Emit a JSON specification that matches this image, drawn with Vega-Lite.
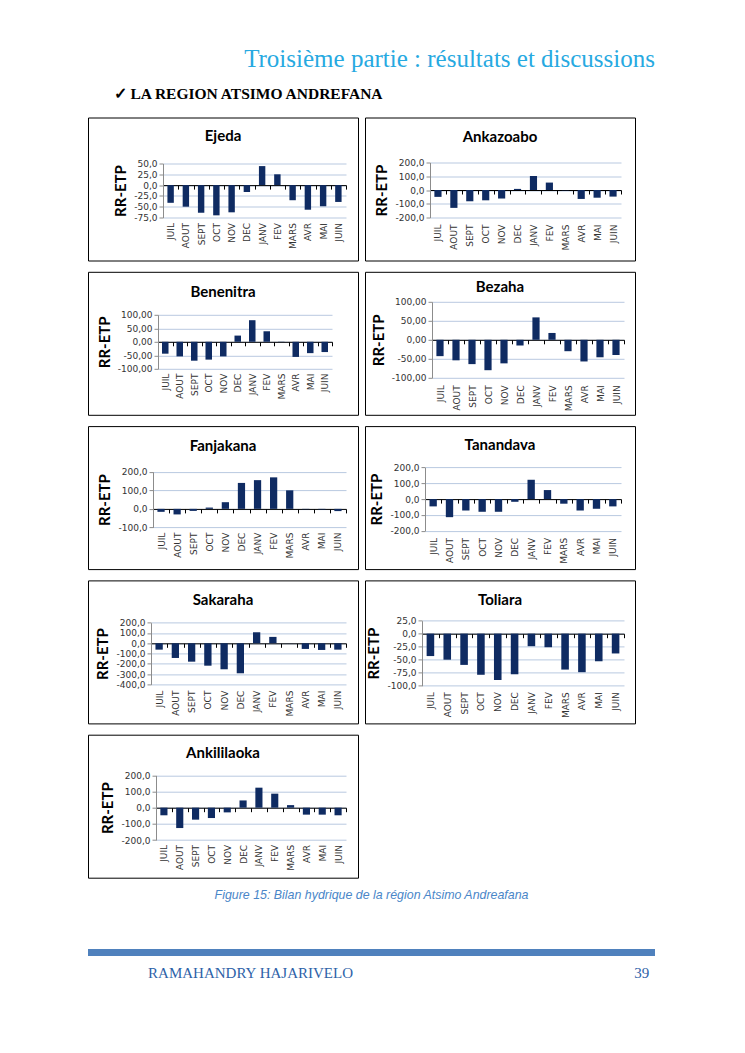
{
  "$schema": "https://vega.github.io/schema/vega-lite/v6.json",
  "background": "white",
  "padding": {"left": 83, "top": 46.5, "right": 0, "bottom": 0},
  "title": {"text": "Troisième partie : résultats et discussions", "anchor": "end", "font": "Liberation Serif", "fontSize": 25, "fontWeight": "normal", "color": "#27A9E1", "offset": 15.3},
  "datasets": {
    "rr": [
      {"s":"Ejeda","m":"JUIL","v":-41},{"s":"Ejeda","m":"AOUT","v":-50},{"s":"Ejeda","m":"SEPT","v":-64},{"s":"Ejeda","m":"OCT","v":-70},{"s":"Ejeda","m":"NOV","v":-63},{"s":"Ejeda","m":"DEC","v":-16},{"s":"Ejeda","m":"JANV","v":44},{"s":"Ejeda","m":"FEV","v":25},{"s":"Ejeda","m":"MARS","v":-35},{"s":"Ejeda","m":"AVR","v":-57},{"s":"Ejeda","m":"MAI","v":-49},{"s":"Ejeda","m":"JUIN","v":-39},
      {"s":"Ankazoabo","m":"JUIL","v":-50},{"s":"Ankazoabo","m":"AOUT","v":-130},{"s":"Ankazoabo","m":"SEPT","v":-82},{"s":"Ankazoabo","m":"OCT","v":-75},{"s":"Ankazoabo","m":"NOV","v":-62},{"s":"Ankazoabo","m":"DEC","v":8},{"s":"Ankazoabo","m":"JANV","v":102},{"s":"Ankazoabo","m":"FEV","v":54},{"s":"Ankazoabo","m":"MARS","v":-2},{"s":"Ankazoabo","m":"AVR","v":-65},{"s":"Ankazoabo","m":"MAI","v":-56},{"s":"Ankazoabo","m":"JUIN","v":-48},
      {"s":"Benenitra","m":"JUIL","v":-44},{"s":"Benenitra","m":"AOUT","v":-54},{"s":"Benenitra","m":"SEPT","v":-70},{"s":"Benenitra","m":"OCT","v":-66},{"s":"Benenitra","m":"NOV","v":-54},{"s":"Benenitra","m":"DEC","v":23},{"s":"Benenitra","m":"JANV","v":80},{"s":"Benenitra","m":"FEV","v":39},{"s":"Benenitra","m":"MARS","v":-1},{"s":"Benenitra","m":"AVR","v":-56},{"s":"Benenitra","m":"MAI","v":-42},{"s":"Benenitra","m":"JUIN","v":-38},
      {"s":"Bezaha","m":"JUIL","v":-43},{"s":"Bezaha","m":"AOUT","v":-54},{"s":"Bezaha","m":"SEPT","v":-64},{"s":"Bezaha","m":"OCT","v":-80},{"s":"Bezaha","m":"NOV","v":-62},{"s":"Bezaha","m":"DEC","v":-15},{"s":"Bezaha","m":"JANV","v":59},{"s":"Bezaha","m":"FEV","v":18},{"s":"Bezaha","m":"MARS","v":-30},{"s":"Bezaha","m":"AVR","v":-57},{"s":"Bezaha","m":"MAI","v":-46},{"s":"Bezaha","m":"JUIN","v":-40},
      {"s":"Fanjakana","m":"JUIL","v":-16},{"s":"Fanjakana","m":"AOUT","v":-30},{"s":"Fanjakana","m":"SEPT","v":-11},{"s":"Fanjakana","m":"OCT","v":7},{"s":"Fanjakana","m":"NOV","v":36},{"s":"Fanjakana","m":"DEC","v":140},{"s":"Fanjakana","m":"JANV","v":155},{"s":"Fanjakana","m":"FEV","v":170},{"s":"Fanjakana","m":"MARS","v":100},{"s":"Fanjakana","m":"AVR","v":-2},{"s":"Fanjakana","m":"MAI","v":-3},{"s":"Fanjakana","m":"JUIN","v":-12},
      {"s":"Tanandava","m":"JUIL","v":-46},{"s":"Tanandava","m":"AOUT","v":-114},{"s":"Tanandava","m":"SEPT","v":-72},{"s":"Tanandava","m":"OCT","v":-80},{"s":"Tanandava","m":"NOV","v":-80},{"s":"Tanandava","m":"DEC","v":-17},{"s":"Tanandava","m":"JANV","v":122},{"s":"Tanandava","m":"FEV","v":57},{"s":"Tanandava","m":"MARS","v":-29},{"s":"Tanandava","m":"AVR","v":-72},{"s":"Tanandava","m":"MAI","v":-61},{"s":"Tanandava","m":"JUIN","v":-46},
      {"s":"Sakaraha","m":"JUIL","v":-62},{"s":"Sakaraha","m":"AOUT","v":-143},{"s":"Sakaraha","m":"SEPT","v":-179},{"s":"Sakaraha","m":"OCT","v":-218},{"s":"Sakaraha","m":"NOV","v":-253},{"s":"Sakaraha","m":"DEC","v":-292},{"s":"Sakaraha","m":"JANV","v":107},{"s":"Sakaraha","m":"FEV","v":62},{"s":"Sakaraha","m":"MARS","v":-1},{"s":"Sakaraha","m":"AVR","v":-55},{"s":"Sakaraha","m":"MAI","v":-65},{"s":"Sakaraha","m":"JUIN","v":-62},
      {"s":"Toliara","m":"JUIL","v":-43},{"s":"Toliara","m":"AOUT","v":-50},{"s":"Toliara","m":"SEPT","v":-60},{"s":"Toliara","m":"OCT","v":-79},{"s":"Toliara","m":"NOV","v":-89},{"s":"Toliara","m":"DEC","v":-78},{"s":"Toliara","m":"JANV","v":-24},{"s":"Toliara","m":"FEV","v":-26},{"s":"Toliara","m":"MARS","v":-69},{"s":"Toliara","m":"AVR","v":-74},{"s":"Toliara","m":"MAI","v":-53},{"s":"Toliara","m":"JUIN","v":-38},
      {"s":"Ankililaoka","m":"JUIL","v":-47},{"s":"Ankililaoka","m":"AOUT","v":-126},{"s":"Ankililaoka","m":"SEPT","v":-74},{"s":"Ankililaoka","m":"OCT","v":-64},{"s":"Ankililaoka","m":"NOV","v":-29},{"s":"Ankililaoka","m":"DEC","v":45},{"s":"Ankililaoka","m":"JANV","v":124},{"s":"Ankililaoka","m":"FEV","v":87},{"s":"Ankililaoka","m":"MARS","v":16},{"s":"Ankililaoka","m":"AVR","v":-43},{"s":"Ankililaoka","m":"MAI","v":-43},{"s":"Ankililaoka","m":"JUIN","v":-47}
    ]
  },
  "data": {"name": "rr"},
  "spacing": 9.3,
  "vconcat": [
    {
      "title": {"text": "✓   LA REGION ATSIMO ANDREFANA", "anchor": "start", "dx": 30, "font": "Liberation Serif", "fontSize": 15.5, "fontWeight": "bold", "color": "#000", "offset": 14.4},
      "spacing": 1,
      "hconcat": [
        {
          "width": 270, "height": 143,
          "title": {"text": "Ejeda", "offset": -26},
          "transform": [{"filter": "datum.s === 'Ejeda'"}],
          "mark": {"type": "bar", "color": "#0F2B62", "width": {"band": 0.42}},
          "encoding": {
            "x": {"field": "m", "type": "nominal", "title": null, "sort": ["JUIL","AOUT","SEPT","OCT","NOV","DEC","JANV","FEV","MARS","AVR","MAI","JUIN"], "scale": {"type": "band", "range": [75, 258], "paddingInner": 0, "paddingOuter": 0}, "axis": {"offset": -75.4, "labelPadding": 33.4}},
            "y": {"field": "v", "type": "quantitative", "title": "RR-ETP", "scale": {"domain": [-75, 50], "range": [100, 46], "nice": false}, "axis": {"offset": -75, "values": [-75, -50, -25, 0, 25, 50], "format": ".1f"}},
            "y2": {"datum": 0}
          }
        },
        {
          "width": 270, "height": 143,
          "title": {"text": "Ankazoabo", "offset": -27},
          "transform": [{"filter": "datum.s === 'Ankazoabo'"}],
          "mark": {"type": "bar", "color": "#0F2B62", "width": {"band": 0.45}},
          "encoding": {
            "x": {"field": "m", "type": "nominal", "title": null, "sort": ["JUIL","AOUT","SEPT","OCT","NOV","DEC","JANV","FEV","MARS","AVR","MAI","JUIN"], "scale": {"type": "band", "range": [65, 256], "paddingInner": 0, "paddingOuter": 0}, "axis": {"offset": -70.5, "labelPadding": 30}},
            "y": {"field": "v", "type": "quantitative", "title": "RR-ETP", "scale": {"domain": [-200, 200], "range": [100, 45], "nice": false}, "axis": {"offset": -65, "values": [-200, -100, 0, 100, 200], "format": ".1f"}},
            "y2": {"datum": 0}
          }
        }
      ]
    },
    {
      "spacing": 1,
      "hconcat": [
        {
          "width": 270, "height": 143,
          "title": {"text": "Benenitra", "offset": -28},
          "transform": [{"filter": "datum.s === 'Benenitra'"}],
          "mark": {"type": "bar", "color": "#0F2B62", "width": {"band": 0.45}},
          "encoding": {
            "x": {"field": "m", "type": "nominal", "title": null, "sort": ["JUIL","AOUT","SEPT","OCT","NOV","DEC","JANV","FEV","MARS","AVR","MAI","JUIN"], "scale": {"type": "band", "range": [70, 244], "paddingInner": 0, "paddingOuter": 0}, "axis": {"offset": -73, "labelPadding": 27.3}},
            "y": {"field": "v", "type": "quantitative", "title": "RR-ETP", "scale": {"domain": [-100, 100], "range": [97, 43], "nice": false}, "axis": {"offset": -70, "values": [-100, -50, 0, 50, 100], "format": ".2f"}},
            "y2": {"datum": 0}
          }
        },
        {
          "width": 270, "height": 143,
          "title": {"text": "Bezaha", "offset": -23},
          "transform": [{"filter": "datum.s === 'Bezaha'"}],
          "mark": {"type": "bar", "color": "#0F2B62", "width": {"band": 0.45}},
          "encoding": {
            "x": {"field": "m", "type": "nominal", "title": null, "sort": ["JUIL","AOUT","SEPT","OCT","NOV","DEC","JANV","FEV","MARS","AVR","MAI","JUIN"], "scale": {"type": "band", "range": [67, 259], "paddingInner": 0, "paddingOuter": 0}, "axis": {"offset": -75, "labelPadding": 41}},
            "y": {"field": "v", "type": "quantitative", "title": "RR-ETP", "scale": {"domain": [-100, 100], "range": [106, 30], "nice": false}, "axis": {"offset": -67, "values": [-100, -50, 0, 50, 100], "format": ".2f"}},
            "y2": {"datum": 0}
          }
        }
      ]
    },
    {
      "spacing": 1,
      "hconcat": [
        {
          "width": 270, "height": 143,
          "title": {"text": "Fanjakana", "offset": -27.7},
          "transform": [{"filter": "datum.s === 'Fanjakana'"}],
          "mark": {"type": "bar", "color": "#0F2B62", "width": {"band": 0.45}},
          "encoding": {
            "x": {"field": "m", "type": "nominal", "title": null, "sort": ["JUIL","AOUT","SEPT","OCT","NOV","DEC","JANV","FEV","MARS","AVR","MAI","JUIN"], "scale": {"type": "band", "range": [65, 258], "paddingInner": 0, "paddingOuter": 0}, "axis": {"offset": -60.2, "labelPadding": 19.2}},
            "y": {"field": "v", "type": "quantitative", "title": "RR-ETP", "scale": {"domain": [-100, 200], "range": [101.3, 45.7], "nice": false}, "axis": {"offset": -65, "values": [-100, 0, 100, 200], "format": ".1f"}},
            "y2": {"datum": 0}
          }
        },
        {
          "width": 270, "height": 143,
          "title": {"text": "Tanandava", "offset": -26.7},
          "transform": [{"filter": "datum.s === 'Tanandava'"}],
          "mark": {"type": "bar", "color": "#0F2B62", "width": {"band": 0.45}},
          "encoding": {
            "x": {"field": "m", "type": "nominal", "title": null, "sort": ["JUIL","AOUT","SEPT","OCT","NOV","DEC","JANV","FEV","MARS","AVR","MAI","JUIN"], "scale": {"type": "band", "range": [60, 256], "paddingInner": 0, "paddingOuter": 0}, "axis": {"offset": -70, "labelPadding": 34.3}},
            "y": {"field": "v", "type": "quantitative", "title": "RR-ETP", "scale": {"domain": [-200, 200], "range": [104.7, 41.3], "nice": false}, "axis": {"offset": -60, "values": [-200, -100, 0, 100, 200], "format": ".1f"}},
            "y2": {"datum": 0}
          }
        }
      ]
    },
    {
      "spacing": 1,
      "hconcat": [
        {
          "width": 270, "height": 143,
          "title": {"text": "Sakaraha", "offset": -27.7},
          "transform": [{"filter": "datum.s === 'Sakaraha'"}],
          "mark": {"type": "bar", "color": "#0F2B62", "width": {"band": 0.45}},
          "encoding": {
            "x": {"field": "m", "type": "nominal", "title": null, "sort": ["JUIL","AOUT","SEPT","OCT","NOV","DEC","JANV","FEV","MARS","AVR","MAI","JUIN"], "scale": {"type": "band", "range": [63, 258], "paddingInner": 0, "paddingOuter": 0}, "axis": {"offset": -80.1, "labelPadding": 42.8}},
            "y": {"field": "v", "type": "quantitative", "title": "RR-ETP", "scale": {"domain": [-400, 200], "range": [104, 42.3], "nice": false}, "axis": {"offset": -63, "values": [-400, -300, -200, -100, 0, 100, 200], "format": ".1f"}},
            "y2": {"datum": 0}
          }
        },
        {
          "width": 270, "height": 143,
          "title": {"text": "Toliara", "offset": -27.7},
          "transform": [{"filter": "datum.s === 'Toliara'"}],
          "mark": {"type": "bar", "color": "#0F2B62", "width": {"band": 0.45}},
          "encoding": {
            "x": {"field": "m", "type": "nominal", "title": null, "sort": ["JUIL","AOUT","SEPT","OCT","NOV","DEC","JANV","FEV","MARS","AVR","MAI","JUIN"], "scale": {"type": "band", "range": [57, 259], "paddingInner": 0, "paddingOuter": 0}, "axis": {"offset": -89.7, "labelPadding": 54}},
            "y": {"field": "v", "type": "quantitative", "title": "RR-ETP", "scale": {"domain": [-100, 25], "range": [105.3, 40.3], "nice": false}, "axis": {"offset": -57, "values": [-100, -75, -50, -25, 0, 25], "format": ".1f"}},
            "y2": {"datum": 0}
          }
        }
      ]
    },
    {
      "width": 270, "height": 143,
      "title": {"text": "Ankililaoka", "offset": -26.7},
      "transform": [{"filter": "datum.s === 'Ankililaoka'"}],
      "mark": {"type": "bar", "color": "#0F2B62", "width": {"band": 0.45}},
      "encoding": {
        "x": {"field": "m", "type": "nominal", "title": null, "sort": ["JUIL","AOUT","SEPT","OCT","NOV","DEC","JANV","FEV","MARS","AVR","MAI","JUIN"], "scale": {"type": "band", "range": [68, 258], "paddingInner": 0, "paddingOuter": 0}, "axis": {"offset": -70, "labelPadding": 32.7}},
        "y": {"field": "v", "type": "quantitative", "title": "RR-ETP", "scale": {"domain": [-200, 200], "range": [105.3, 40.7], "nice": false}, "axis": {"offset": -68, "values": [-200, -100, 0, 100, 200], "format": ".1f"}},
        "y2": {"datum": 0}
      }
    },
    {
      "spacing": 8,
      "vconcat": [
        {
          "width": 567, "height": 7,
          "view": {"fill": "#4F81BD", "stroke": null},
          "title": {"text": "Figure 15: Bilan hydrique de la région Atsimo Andreafana", "anchor": "middle", "font": "Liberation Sans", "fontSize": 12.4, "fontStyle": "italic", "fontWeight": "normal", "color": "#4A86C8", "offset": 45.2},
          "data": {"values": [{"t": ""}]},
          "mark": {"type": "text"},
          "encoding": {"text": {"field": "t"}}
        },
        {
          "width": 567, "height": 14,
          "view": {"stroke": null},
          "layer": [
            {
              "data": {"values": [{"t": "RAMAHANDRY HAJARIVELO"}]},
              "mark": {"type": "text", "align": "left", "baseline": "middle", "font": "Liberation Serif", "fontSize": 15, "color": "#2E62A8"},
              "encoding": {"text": {"field": "t"}, "x": {"datum": 0.106, "type": "quantitative", "scale": {"domain": [0, 1]}, "axis": null}}
            },
            {
              "data": {"values": [{"t": "39"}]},
              "mark": {"type": "text", "align": "right", "baseline": "middle", "font": "Liberation Serif", "fontSize": 15, "color": "#2E62A8"},
              "encoding": {"text": {"field": "t"}, "x": {"datum": 0.99, "type": "quantitative"}}
            }
          ]
        }
      ]
    }
  ],
  "config": {
    "locale": {"number": {"decimal": ",", "thousands": " ", "grouping": [3], "currency": ["", " €"], "minus": "-"}},
    "view": {"stroke": "#000", "strokeWidth": 1},
    "title": {"font": "Lato", "fontSize": 15, "fontWeight": "bold", "color": "#000", "anchor": "middle"},
    "axis": {"labelFont": "DejaVu Sans", "labelFontSize": 9, "labelColor": "#333"},
    "axisX": {"domainColor": "#000", "tickColor": "#000", "tickSize": 4, "tickBand": "extent", "labelAngle": -90, "grid": false, "zindex": 1, "labelOverlap": false},
    "axisY": {"grid": true, "gridColor": "#B9C9E0", "domainColor": "#8C8C8C", "tickColor": "#8C8C8C", "tickSize": 4, "labelPadding": 2, "titleFont": "Lato", "titleFontSize": 15, "titleFontWeight": "bold", "titleColor": "#000", "titlePadding": 5, "labelOverlap": false}
  }
}
